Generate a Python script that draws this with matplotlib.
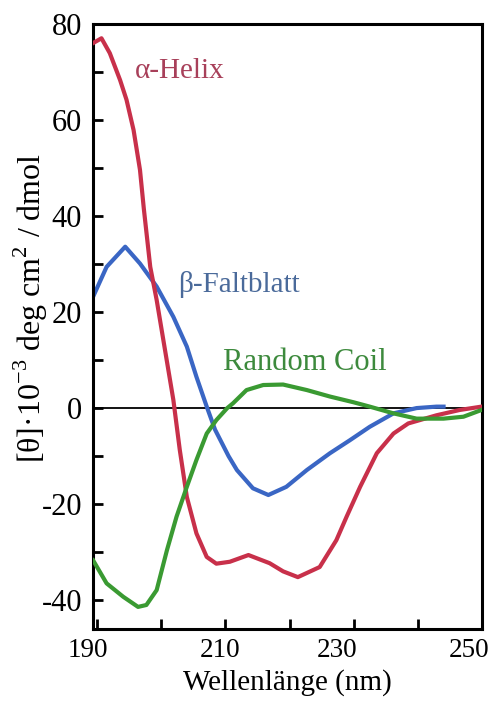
import matplotlib
matplotlib.use("Agg")
import matplotlib.pyplot as plt

plt.rcParams['font.family'] = ['Liberation Serif', 'DejaVu Serif']
plt.rcParams['mathtext.fontset'] = 'custom'
plt.rcParams['mathtext.rm'] = 'Liberation Serif'

# alpha helix
helix_x = [189.4, 190.7, 192.0, 193.6, 194.6, 195.7, 196.7, 197.3, 198.3, 199.3, 200.6, 201.9, 202.9,
           204.0, 205.5, 207.1, 208.6, 210.7, 213.6, 216.9, 219.0, 221.3, 224.7, 227.3, 228.9, 231.0,
           233.6, 236.2, 238.5, 242.9, 246.5, 249.9]
helix_y = [76.0, 77.0, 73.9, 68.3, 64.2, 57.9, 49.6, 41.5, 29.4, 22.5, 12.1, 1.7, -8.7,
           -18.5, -26.1, -31.0, -32.4, -32.0, -30.6, -32.3, -34.0, -35.2, -33.1, -27.5, -22.6, -16.4,
           -9.4, -5.3, -3.2, -1.5, -0.4, 0.3]

# beta sheet
sheet_x = [189.4, 191.5, 194.4, 196.7, 199.3, 201.9, 204.0, 205.5, 207.1, 208.4, 210.5, 211.8, 214.3,
           216.7, 219.5, 222.7, 226.3, 229.4, 232.5, 236.2, 239.8, 242.9, 244.0]
sheet_y = [23.2, 29.4, 33.6, 30.1, 25.3, 19.0, 12.8, 6.5, 0.3, -4.5, -10.0, -12.9, -16.7,
           -18.1, -16.4, -12.9, -9.4, -6.7, -3.9, -1.1, 0.0, 0.3, 0.3]

# random coil
coil_x = [189.4, 191.5, 194.1, 196.4, 197.7, 199.3, 200.9, 202.4, 204.0, 205.5, 207.1, 208.6, 210.3,
          211.2, 213.3, 215.9, 219.0, 222.7, 226.3, 230.0, 232.5, 236.2, 239.8, 244.0, 247.1, 249.9]
coil_y = [-31.7, -36.5, -39.3, -41.4, -41.0, -37.9, -29.6, -22.6, -16.4, -10.8, -5.3, -2.5, 0.0,
          1.0, 3.75, 4.8, 4.9, 3.75, 2.4, 1.2, 0.3, -1.1, -2.2, -2.2, -1.8, -0.4]

x_ticks = [190, 200, 210, 220, 230, 240, 250]
x_labels = ['190', '210', '230', '250']
x_label_pos = [-0.013, 0.326, 0.627, 0.967]  # labels sit a bit off their ticks in the original
y_ticks = [-40, -30, -20, -10, 0, 10, 20, 30, 40, 50, 60, 70, 80]
y_labels = ['-40', '', '-20', '', '0', '', '20', '', '40', '', '60', '', '80']

fig = plt.figure(figsize=(4.98, 7.02), dpi=100)
ax = fig.add_axes([0.187, 0.104, 0.781, 0.862])

ax.axhline(0, color='black', lw=1.3, zorder=1)
ax.plot(helix_x, helix_y, color='#c8304a', lw=3, solid_joinstyle='round', zorder=3)
ax.plot(sheet_x, sheet_y, color='#3a66c4', lw=3, solid_joinstyle='round', zorder=2)
ax.plot(coil_x, coil_y, color='#3a9a32', lw=3, solid_joinstyle='round', zorder=4)

ax.text(195.9, 68.7, 'α-Helix', color='#a8405a', fontsize=21)
ax.text(202.6, 24.2, 'β-Faltblatt', color='#4a6a9a', fontsize=21)
ax.text(209.6, 7.9, 'Random Coil', color='#3d8a3d', fontsize=22)

ax.set_xlim(189.4, 250)
ax.set_ylim(-46, 80)
ax.set_xticks(x_ticks)
ax.set_xticklabels([])
for lab, pos in zip(x_labels, x_label_pos):
    ax.text(pos, -0.015, lab, transform=ax.transAxes, ha='center', va='top', fontsize=19.5)
ax.set_yticks(y_ticks)
ax.set_yticklabels(y_labels)
ax.tick_params(direction='in', length=7, width=2, labelsize=22, pad=8)

for s in ax.spines.values():
    s.set_linewidth(2.2)

ax.set_xlabel('Wellenlänge (nm)', fontsize=21)
ax.xaxis.set_label_coords(0.5, -0.066)
ax.set_ylabel(r'[θ]·10$^{-3}$ deg cm$^{2}$ / dmol', fontsize=23)
ax.yaxis.set_label_coords(-0.11, 0.53)

fig.savefig('out.png', dpi=100)
